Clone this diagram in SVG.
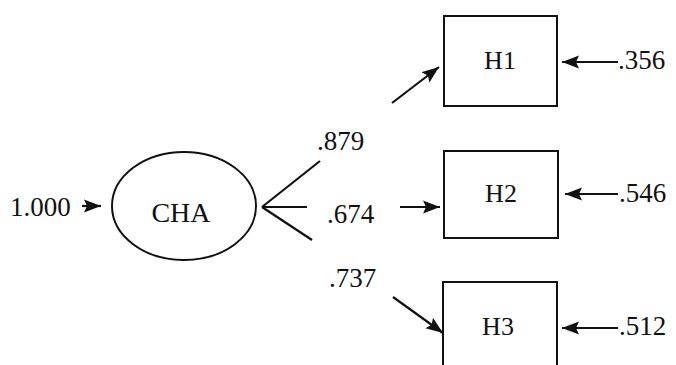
<svg xmlns="http://www.w3.org/2000/svg" width="676" height="365" viewBox="0 0 676 365">
  <style>
    text { font-family: "Liberation Serif", "Times New Roman", serif; fill: #111; }
    .num { font-size: 27px; }
    .lbl { font-size: 26px; text-anchor: middle; }
    .big { font-size: 28px; text-anchor: middle; }
    .shape { fill: #fff; stroke: #111; stroke-width: 2; }
    .edge { stroke: #111; stroke-width: 2.2; fill: none; }
  </style>
  <defs>
    <marker id="head" markerUnits="userSpaceOnUse" markerWidth="18" markerHeight="14" refX="17" refY="7" orient="auto">
      <path d="M0,0.5 L17,7 L0,13.5 L3,7 z" fill="#111"/>
    </marker>
  </defs>
  <rect width="676" height="365" fill="#fff"/>

  <g id="connectors">
    <line class="edge" x1="82" y1="206" x2="101" y2="206" marker-end="url(#head)"/>
    <line class="edge" x1="262" y1="207" x2="320" y2="161"/>
    <line class="edge" x1="262" y1="207" x2="307" y2="207"/>
    <line class="edge" x1="262" y1="207" x2="312" y2="240"/>
    <line class="edge" x1="392" y1="103" x2="439" y2="67" marker-end="url(#head)"/>
    <line class="edge" x1="400" y1="207" x2="440" y2="207" marker-end="url(#head)"/>
    <line class="edge" x1="393" y1="297" x2="443" y2="333" marker-end="url(#head)"/>
    <line class="edge" x1="618" y1="62" x2="562" y2="62" marker-end="url(#head)"/>
    <line class="edge" x1="618" y1="194" x2="565" y2="194" marker-end="url(#head)"/>
    <line class="edge" x1="618" y1="328" x2="562" y2="328" marker-end="url(#head)"/>
  </g>

  <g id="labels">
    <text class="num" x="10" y="216">1.000</text>
    <text class="num" x="317" y="150">.879</text>
    <text class="num" x="327" y="223">.674</text>
    <text class="num" x="329" y="287">.737</text>
    <text class="num" x="618" y="69">.356</text>
    <text class="num" x="619" y="202">.546</text>
    <text class="num" x="619" y="335">.512</text>
  </g>

  <g id="CHA">
    <ellipse class="shape" cx="184" cy="206" rx="72" ry="54"/>
    <text class="big" x="181" y="222">CHA</text>
  </g>

  <g id="H1">
    <rect class="shape" x="444" y="16" width="113" height="90"/>
    <text class="lbl" x="500" y="69">H1</text>
  </g>

  <g id="H2">
    <rect class="shape" x="444" y="151" width="114" height="87"/>
    <text class="lbl" x="501" y="202">H2</text>
  </g>

  <g id="H3">
    <rect class="shape" x="443" y="282" width="114" height="100"/>
    <text class="lbl" x="498" y="335">H3</text>
  </g>
</svg>
